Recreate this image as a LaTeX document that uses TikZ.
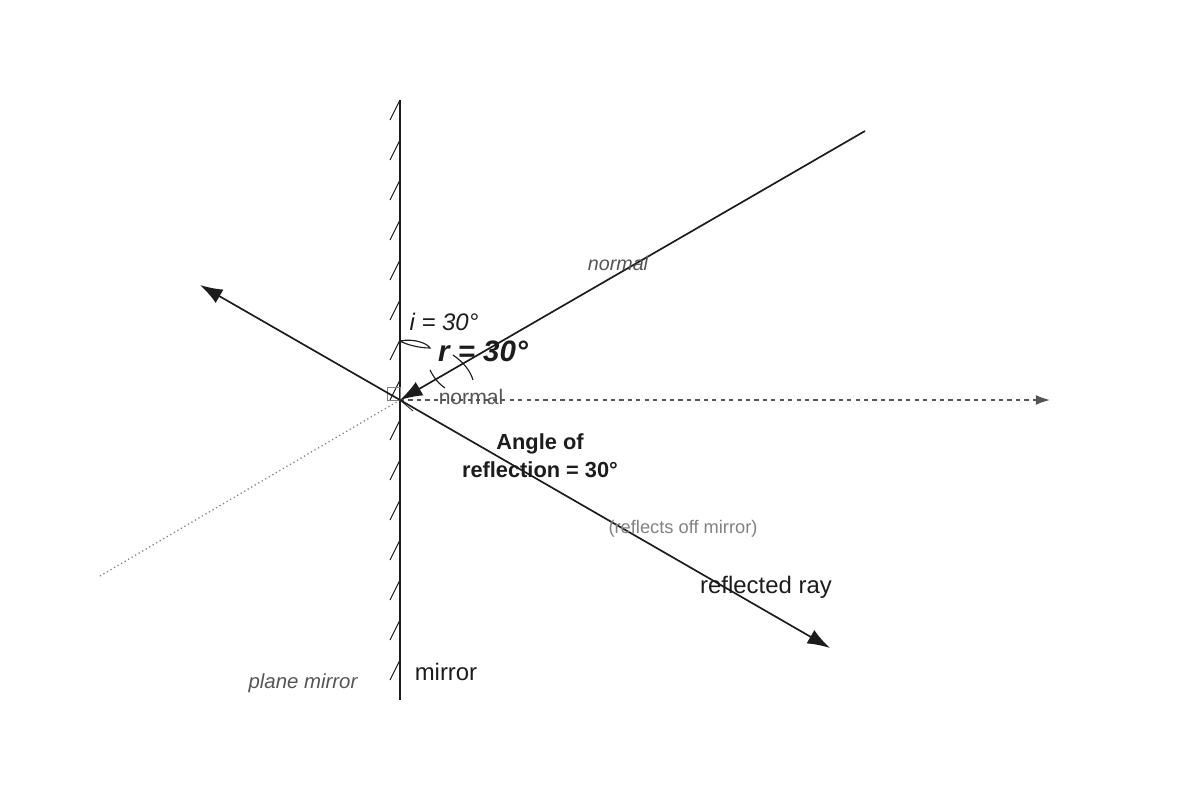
\documentclass[tikz,border=0pt]{standalone}
\usepackage{fontspec}
\setmainfont{Liberation Sans}
\usepackage{xcolor}
\definecolor{ink}{RGB}{28,28,28}
\definecolor{greytext}{RGB}{85,85,85}
\definecolor{lighttext}{RGB}{130,130,130}
\usetikzlibrary{calc,arrows.meta,positioning}

\begin{document}
\begin{tikzpicture}[x=0.025cm,y=-0.025cm,
    ray/.style={draw=ink,line width=1.2pt,-{Latex[length=16pt,width=11pt]}},
    lab/.style={inner sep=0pt,text=ink}]
    \useasboundingbox (0,0) rectangle (1200,800);
    % points
    \coordinate (O) at (400,400);
    \coordinate (src) at (865,131);
    \coordinate (up) at (200,285);
    \coordinate (down) at (830,648);
    \coordinate (virt) at (100,576);
    \coordinate (nend) at (1050,400);
    \coordinate (mtop) at (400,100);
    \coordinate (mbot) at (400,700);
    % mirror
    \draw[greytext,dashed,line width=0.6pt] (mtop) -- (O);
    \draw[ink,line width=2pt] (mtop) -- (mbot);
    \foreach \y in {100,140,...,660}
        \draw[ink,line width=0.7pt] (400,\y) -- (390,\y+20);
    % normal and rays
    \draw[greytext,dashed,line width=1pt,-{Latex[length=10pt,width=7pt]}] (O) -- (nend);
    \draw[lighttext,dotted,line width=0.9pt] (O) -- (virt);
    \draw[lighttext,line width=0.5pt] (387,387) rectangle (400,400);
    \draw[ray] (src) -- (O);
    \draw[ray] (O) -- (up);
    \draw[ray] (O) -- (down);
    \draw[ink,line width=0.6pt] (400,400) -- (413,411);
    % angle marks
    \draw[ink,line width=0.8pt] (400,341) .. controls (415,338) and (428,344) .. (430,348) .. controls (418,348) and (405,344) .. (400,341);
    \draw[ink,line width=0.8pt] (453,355) .. controls (463,362) and (470,370) .. (473,380);
    \draw[ink,line width=0.8pt] (430,370) .. controls (434,378) and (439,384) .. (445,388);
    % labels
    \node[lab,text=greytext,font=\itshape\fontsize{14}{14}\selectfont] (nlab1) at (618,263) {normal};
    \node[lab,font=\itshape\fontsize{17}{17}\selectfont] (ilab) at (444,322) {i = 30°};
    \node[lab,font=\bfseries\itshape\fontsize{21}{21}\selectfont] (rlab) at (483,351) {r = 30°};
    \node[lab,text=greytext,font=\fontsize{15}{15}\selectfont] (nlab2) at (471,397) {normal};
    \node[lab,align=center,font=\bfseries\fontsize{15.5}{20}\selectfont] (alab) at (540,456) {Angle of\\reflection = 30°};
    \node[lab,text=lighttext,font=\fontsize{13}{13}\selectfont] (rlab2) at (683,529) {(reflects off mirror)};
    \node[lab,font=\fontsize{17}{17}\selectfont] (raylab) at (766,587) {reflected ray};
    \node[lab,font=\fontsize{17}{17}\selectfont] (mlab) at (446,672) {mirror};
    \node[lab,text=greytext,font=\itshape\fontsize{14.5}{14.5}\selectfont] (pmlab) at (303,683) {plane mirror};
\end{tikzpicture}
\end{document}
